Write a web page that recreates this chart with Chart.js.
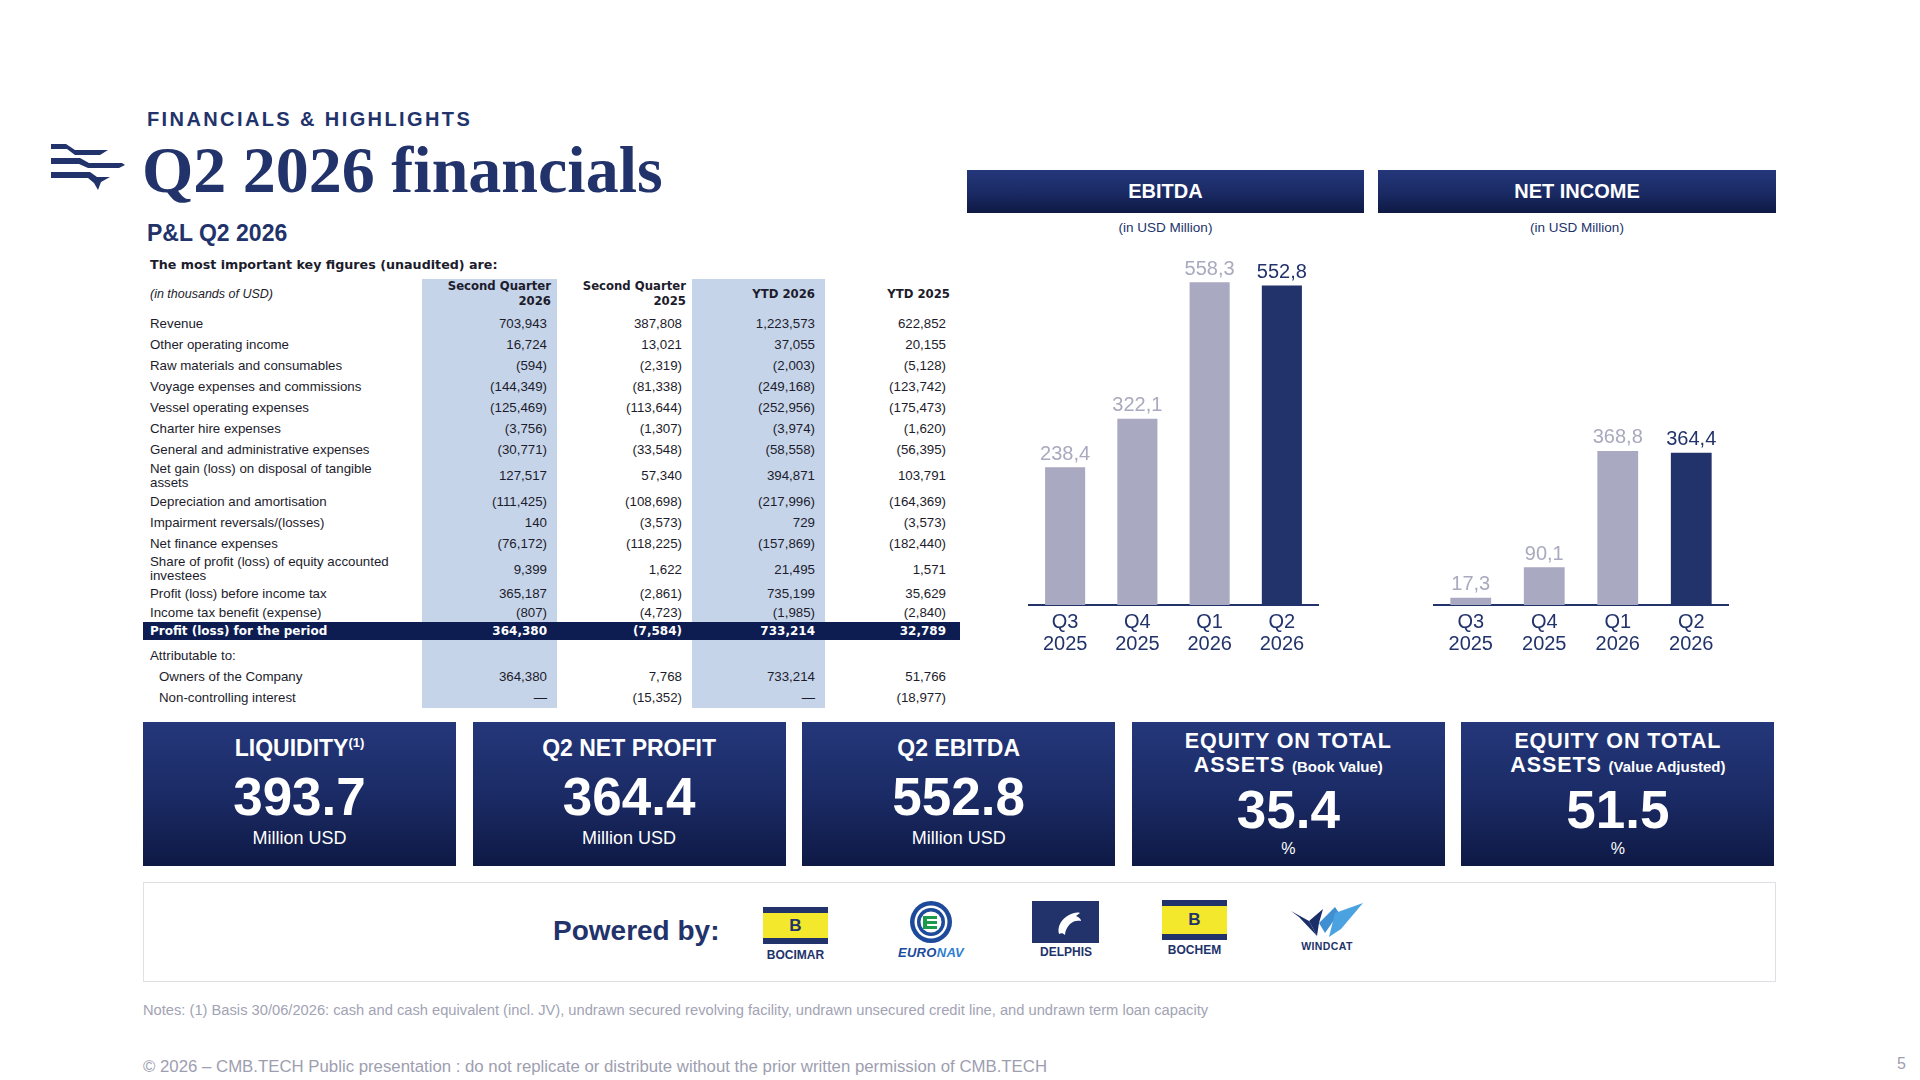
<!DOCTYPE html>
<html lang="en"><head><meta charset="utf-8"><title>Q2 2026 financials</title>
<script src="https://cdn.jsdelivr.net/npm/chart.js@4.4.1/dist/chart.umd.min.js"></script>
<style>
*{box-sizing:border-box;}
html,body{margin:0;padding:0;background:#fff;}
#page{position:relative;width:1920px;height:1080px;overflow:hidden;font-family:"Liberation Sans",Arial,sans-serif;color:#22336b;}
.a{position:absolute;white-space:nowrap;}
.navygrad{background:linear-gradient(180deg,#24377a 0%,#1b2b66 50%,#0e1944 100%);}
.hdr{color:#fff;font-weight:700;font-size:20px;display:flex;align-items:center;justify-content:center;}
.sub{font-size:13.5px;color:#22336b;text-align:center;}
.cell{position:absolute;display:flex;align-items:center;white-space:nowrap;}
.kpi{position:absolute;top:722px;width:313px;height:144px;color:#fff;text-align:center;}
.kpi div{position:absolute;left:0;right:0;white-space:nowrap;}
.logoTxt{position:absolute;text-align:center;font-weight:700;color:#22336b;white-space:nowrap;}
</style></head>
<body><div id="page">

<!-- brand mark -->
<svg class="a" style="left:48px;top:140px" width="82" height="54" viewBox="48 140 82 54">
  <polygon fill="#22336b" points="51,144 66,144 75,150 108,150 100,155 75,155 67,149 51,149"/>
  <polygon fill="#22336b" points="51,158 80,158 89,163 122,163 125,165 119,168 88,168 79,164 51,164"/>
  <polygon fill="#22336b" points="51,172 90,172 97,177 110,177 101,182 98,190 94,183 88,178 51,178"/>
</svg>

<div class="a" style="left:147px;top:109px;font-size:20px;line-height:20px;font-weight:700;letter-spacing:2.4px;color:#22336b">FINANCIALS &amp; HIGHLIGHTS</div>
<div class="a" style="left:142px;top:137px;font-family:'Liberation Serif','DejaVu Serif',serif;font-size:66px;line-height:66px;font-weight:700;color:#22336b">Q2 2026 financials</div>
<div class="a" style="left:147px;top:222px;font-size:23px;line-height:23px;font-weight:700;color:#22336b">P&amp;L Q2 2026</div>
<div class="a" style="left:150px;top:258px;font-family:'DejaVu Sans',sans-serif;font-size:12.7px;line-height:13px;font-weight:700;color:#1c1c2c">The most important key figures (unaudited) are:</div>

<div id="table"></div>

<!-- chart headers -->
<div class="a hdr navygrad" style="left:967px;top:170px;width:397px;height:43px">EBITDA</div>
<div class="a hdr navygrad" style="left:1378px;top:170px;width:398px;height:43px">NET INCOME</div>
<div class="a sub" style="left:967px;top:220px;width:397px">(in USD Million)</div>
<div class="a sub" style="left:1378px;top:220px;width:398px">(in USD Million)</div>

<canvas id="ebitdaChart" class="a" style="left:1009px;top:240px" width="330" height="420"></canvas>
<canvas id="netChart" class="a" style="left:1414px;top:240px" width="335" height="420"></canvas>

<div id="kpis"></div>

<!-- powered by -->
<div class="a" style="left:143px;top:882px;width:1633px;height:100px;border:1.5px solid #e0e0e4;"></div>
<div class="a" style="left:553px;top:917px;font-size:28px;line-height:28px;font-weight:700;color:#22336b">Powered by:</div>

<div class="a" style="left:763px;top:907px;width:65px;height:37px;background:#f3e82b;border-top:6px solid #22336b;border-bottom:6px solid #22336b;display:flex;align-items:center;justify-content:center;font-weight:700;font-size:17px;color:#22336b">B</div>
<div class="logoTxt" style="left:755px;top:948px;width:81px;font-size:12px">BOCIMAR</div>

<svg class="a" style="left:909px;top:900px" width="44" height="44" viewBox="0 0 44 44">
  <circle cx="22" cy="22" r="21" fill="#1d4a9a"/>
  <circle cx="22" cy="22" r="16.5" fill="#fff"/>
  <circle cx="22" cy="22" r="14" fill="#1d4a9a"/>
  <circle cx="22" cy="22" r="10.5" fill="#fff"/>
  <path d="M14 16 H28 V19 H18 V21 H28 V24 H18 V26 H28 V29 H14 Z" fill="#1c9a4c"/>
</svg>
<div class="logoTxt" style="left:885px;top:945px;width:92px;font-size:13px;font-style:italic;color:#1d4a9a;letter-spacing:0.3px">EURO<span style="color:#2f7fd0">NAV</span></div>

<div class="a" style="left:1032px;top:901px;width:67px;height:42px;background:#22336b"></div>
<svg class="a" style="left:1032px;top:901px" width="67" height="42" viewBox="0 0 67 42">
  <path d="M27 33 C25 26 29 18 37 14 C41 12 45 11 48 12 L44 15 C47 16 49 18 49 20 C45 19 41 20 38 23 C35 26 33 30 33 34 C31 32 29 32 27 33 Z" fill="#fff"/>
</svg>
<div class="logoTxt" style="left:1026px;top:945px;width:80px;font-size:12px">DELPHIS</div>

<div class="a" style="left:1162px;top:900px;width:65px;height:40px;background:#f3e82b;border-top:6px solid #22336b;border-bottom:6px solid #22336b;display:flex;align-items:center;justify-content:center;font-weight:700;font-size:17px;color:#22336b">B</div>
<div class="logoTxt" style="left:1154px;top:943px;width:81px;font-size:12px">BOCHEM</div>

<svg class="a" style="left:1289px;top:903px" width="76" height="36" viewBox="0 0 76 36">
  <polygon points="2,8 20,18 28,33 10,14" fill="#1a2f6a"/>
  <polygon points="20,18 34,6 30,20 28,33" fill="#1a2f6a"/>
  <polygon points="30,20 46,4 50,10 36,30" fill="#3f8fd2"/>
  <polygon points="46,10 74,0 52,26 40,34" fill="#4aa3e0"/>
</svg>
<div class="logoTxt" style="left:1287px;top:940px;width:80px;font-size:10.5px;letter-spacing:0.4px">WINDCAT</div>

<div class="a" style="left:143px;top:1003px;font-size:14.7px;line-height:15px;color:#a2a3b4">Notes: (1) Basis 30/06/2026: cash and cash equivalent (incl. JV), undrawn secured revolving facility, undrawn unsecured credit line, and undrawn term loan capacity</div>
<div class="a" style="left:143px;top:1058px;font-size:16.8px;line-height:17px;color:#9d9eb0">© 2026 – CMB.TECH Public presentation : do not replicate or distribute without the prior written permission of CMB.TECH</div>
<div class="a" style="left:1897px;top:1056px;font-size:16px;line-height:16px;color:#9d9eb0">5</div>

</div>
<script>
// ---------------- DATA ----------------
const quarterLabels = [["Q3","2025"],["Q4","2025"],["Q1","2026"],["Q2","2026"]];
const ebitdaValues = [238.4, 322.1, 558.3, 552.8];
const netIncomeValues = [17.3, 90.1, 368.8, 364.4];

const tableHeaders = [["Second Quarter","2026"],["Second Quarter","2025"],["YTD 2026"],["YTD 2025"]];
const rowLabels = [
  "Revenue","Other operating income","Raw materials and consumables","Voyage expenses and commissions",
  "Vessel operating expenses","Charter hire expenses","General and administrative expenses",
  "Net gain (loss) on disposal of tangible\nassets","Depreciation and amortisation","Impairment reversals/(losses)",
  "Net finance expenses","Share of profit (loss) of equity accounted\ninvestees","Profit (loss) before income tax",
  "Income tax benefit (expense)","Profit (loss) for the period","Attributable to:","Owners of the Company","Non-controlling interest"
];
const q2_2026 = ["703,943","16,724","(594)","(144,349)","(125,469)","(3,756)","(30,771)","127,517","(111,425)","140","(76,172)","9,399","365,187","(807)","364,380","","364,380","—"];
const q2_2025 = ["387,808","13,021","(2,319)","(81,338)","(113,644)","(1,307)","(33,548)","57,340","(108,698)","(3,573)","(118,225)","1,622","(2,861)","(4,723)","(7,584)","","7,768","(15,352)"];
const ytd_2026 = ["1,223,573","37,055","(2,003)","(249,168)","(252,956)","(3,974)","(58,558)","394,871","(217,996)","729","(157,869)","21,495","735,199","(1,985)","733,214","","733,214","—"];
const ytd_2025 = ["622,852","20,155","(5,128)","(123,742)","(175,473)","(1,620)","(56,395)","103,791","(164,369)","(3,573)","(182,440)","1,571","35,629","(2,840)","32,789","","51,766","(18,977)"];

const kpiTitles = ["LIQUIDITY","Q2 NET PROFIT","Q2 EBITDA","EQUITY ON TOTAL\nASSETS","EQUITY ON TOTAL\nASSETS"];
const kpiTitleNotes = ["(1)","","","(Book Value)","(Value Adjusted)"];
const kpiValues = ["393.7","364.4","552.8","35.4","51.5"];
const kpiUnits = ["Million USD","Million USD","Million USD","%","%"];

// ---------------- TABLE LAYOUT ----------------
const rowHeights = [21,21,21,21,21,21,21,31,21,21,21,30,19,19,18,21,21,21];
const gapBefore = {15:5};
const indentRows = {16:9,17:9};
const boldRow = 14;
const numRight = [547,682,815,946];
const hdrRight = [551,686,815,950];
const shadeCols = [[422,135],[692,133]];

(function buildTable(){
  const t = document.getElementById('table');
  let html = '';
  shadeCols.forEach(([l,w])=>{
    html += `<div class="a" style="left:${l}px;top:279px;width:${w}px;height:429px;background:#c6d4e9"></div>`;
  });
  html += `<div class="a" style="left:150px;top:286px;font-size:12.5px;line-height:16px;font-style:italic;color:#1c1c2c">(in thousands of USD)</div>`;
  tableHeaders.forEach((h,i)=>{
    const lines = h.length;
    const top = lines===2 ? 279 : 287;
    html += `<div class="a" style="left:${hdrRight[i]-140}px;width:140px;top:${top}px;text-align:right;font-family:'DejaVu Sans',sans-serif;font-weight:700;font-size:11.7px;line-height:14.5px;color:#1c1c2c">${h.join('<br>')}</div>`;
  });
  let y = 313;
  const cols = [q2_2026,q2_2025,ytd_2026,ytd_2025];
  rowLabels.forEach((lab,i)=>{
    if(gapBefore[i]) y += gapBefore[i];
    const h = rowHeights[i];
    const bold = i===boldRow;
    if(bold){
      html += `<div class="a" style="left:143px;top:${y}px;width:817px;height:${h}px;background:#0d1d52"></div>`;
    }
    const fStyle = bold ? "font-family:'DejaVu Sans',sans-serif;font-weight:700;font-size:12px;color:#fff;" : "font-size:13.3px;color:#1c1c2c;";
    const ind = indentRows[i]||0;
    html += `<div class="cell" style="left:${150+ind}px;top:${y}px;height:${h}px;line-height:14px;${fStyle}"><span>${lab.replace('\n','<br>')}</span></div>`;
    cols.forEach((c,j)=>{
      if(c[i]==='') return;
      html += `<div class="cell" style="left:${numRight[j]-130}px;width:130px;justify-content:flex-end;top:${y}px;height:${h}px;${fStyle}">${c[i]}</div>`;
    });
    y += h;
  });
  t.innerHTML = html;
})();

// ---------------- KPI BOXES ----------------
(function buildKpis(){
  const k = document.getElementById('kpis');
  let html='';
  kpiTitles.forEach((title,i)=>{
    const left = 143 + i*329.6;
    let inner='';
    if(title.indexOf('\n')<0){
      const sup = kpiTitleNotes[i] ? `<sup style="font-size:13px;vertical-align:9px;line-height:0">${kpiTitleNotes[i]}</sup>` : '';
      inner += `<div style="top:16px;font-weight:700;font-size:23px;line-height:21px">${title}${sup}</div>`;
      inner += `<div style="top:55px;font-weight:700;font-size:53px;line-height:40px">${kpiValues[i]}</div>`;
      inner += `<div style="top:108px;font-size:18px;line-height:16px">${kpiUnits[i]}</div>`;
    } else {
      const [l1,l2] = title.split('\n');
      inner += `<div style="top:7px;font-weight:700;font-size:21.5px;line-height:24px;letter-spacing:0.9px">${l1}</div>`;
      inner += `<div style="top:31px;font-weight:700;font-size:21.5px;line-height:24px;letter-spacing:0.9px">${l2} <span style="font-size:15px;letter-spacing:0">${kpiTitleNotes[i]}</span></div>`;
      inner += `<div style="top:68px;font-weight:700;font-size:53px;line-height:40px">${kpiValues[i]}</div>`;
      inner += `<div style="top:120px;font-size:16px;line-height:14px">${kpiUnits[i]}</div>`;
    }
    html += `<div class="kpi navygrad" style="left:${left}px">${inner}</div>`;
  });
  k.innerHTML = html;
})();

// ---------------- CHARTS ----------------
const NAVY = '#22336b';
const GREY = '#aaa9c2';
const GREY_TXT = '#a9a9bf';
const fmt = v => v.toFixed(1).replace('.', ',');

const valueLabels = {
  id:'valueLabels',
  afterDatasetsDraw(chart){
    const ctx = chart.ctx;
    const ds = chart.data.datasets[0];
    const meta = chart.getDatasetMeta(0);
    ctx.save();
    ctx.font = '20px "Liberation Sans", Arial, sans-serif';
    ctx.textAlign = 'center';
    ctx.textBaseline = 'bottom';
    meta.data.forEach((bar,i)=>{
      ctx.fillStyle = i === ds.data.length-1 ? NAVY : GREY_TXT;
      ctx.fillText(fmt(ds.data[i]), bar.x, bar.y - 3);
    });
    ctx.restore();
  }
};

function makeChart(id, values, yMax){
  const colors = values.map((v,i)=> i===values.length-1 ? NAVY : GREY);
  return new Chart(document.getElementById(id), {
    type:'bar',
    data:{ labels: quarterLabels, datasets:[{ data: values, backgroundColor: colors, borderWidth:0, barPercentage:0.555, categoryPercentage:1 }] },
    options:{
      responsive:false, maintainAspectRatio:false, animation:false,
      layout:{ padding:{ left:20, right:21, top:10, bottom:0 } },
      plugins:{ legend:{display:false}, tooltip:{enabled:false} },
      scales:{
        x:{
          grid:{ display:false, drawTicks:false },
          border:{ display:true, color:NAVY, width:2 },
          ticks:{ color:NAVY, font:{ family:'"Liberation Sans", Arial, sans-serif', size:20, lineHeight:1.1 }, padding:6, maxRotation:0, autoSkip:false },
          afterFit: s => { s.height = 55; }
        },
        y:{ display:false, min:0, max:yMax }
      }
    },
    plugins:[valueLabels]
  });
}
makeChart('ebitdaChart', ebitdaValues, 614);
makeChart('netChart', netIncomeValues, 850);
</script>
</body></html>
